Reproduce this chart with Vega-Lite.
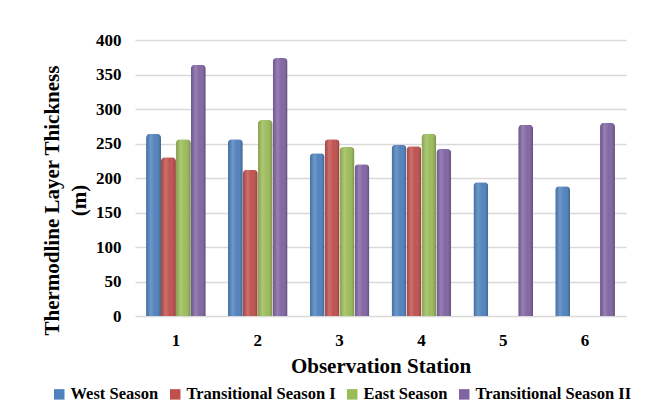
{
  "$schema": "https://vega.github.io/schema/vega-lite/v6.json",
  "width": 491,
  "height": 276,
  "autosize": "none",
  "padding": {"left": 135, "top": 40, "right": 42, "bottom": 99},
  "background": "white",
  "config": {
    "font": "Liberation Serif",
    "view": {"stroke": null}
  },
  "data": {
    "values": [
      {"station": "1", "season": "West Season", "thickness": 264},
      {"station": "1", "season": "Transitional Season I", "thickness": 230},
      {"station": "1", "season": "East Season", "thickness": 256},
      {"station": "1", "season": "Transitional Season II", "thickness": 364},
      {"station": "2", "season": "West Season", "thickness": 256},
      {"station": "2", "season": "Transitional Season I", "thickness": 212},
      {"station": "2", "season": "East Season", "thickness": 284},
      {"station": "2", "season": "Transitional Season II", "thickness": 374},
      {"station": "3", "season": "West Season", "thickness": 236},
      {"station": "3", "season": "Transitional Season I", "thickness": 256},
      {"station": "3", "season": "East Season", "thickness": 245},
      {"station": "3", "season": "Transitional Season II", "thickness": 220},
      {"station": "4", "season": "West Season", "thickness": 248},
      {"station": "4", "season": "Transitional Season I", "thickness": 246},
      {"station": "4", "season": "East Season", "thickness": 264},
      {"station": "4", "season": "Transitional Season II", "thickness": 242},
      {"station": "5", "season": "West Season", "thickness": 194},
      {"station": "5", "season": "Transitional Season II", "thickness": 277},
      {"station": "6", "season": "West Season", "thickness": 188},
      {"station": "6", "season": "Transitional Season II", "thickness": 280}
    ]
  },
  "encoding": {
    "x": {
      "field": "station", "type": "nominal",
      "scale": {"paddingInner": 0.27, "paddingOuter": 0.135},
      "axis": {
        "title": "Observation Station",
        "titleFont": "Liberation Serif", "titleFontSize": 21, "titleFontWeight": "bold", "titleColor": "#000",
        "titlePadding": 7,
        "labelAngle": 0, "labelFont": "Liberation Serif", "labelFontSize": 17, "labelFontWeight": "bold", "labelColor": "#000",
        "labelPadding": 16, "domain": false, "ticks": false, "grid": false
      }
    },
    "xOffset": {
      "field": "season", "type": "nominal",
      "sort": ["West Season", "Transitional Season I", "East Season", "Transitional Season II"]
    },
    "y": {
      "field": "thickness", "type": "quantitative",
      "scale": {"domain": [0, 400]},
      "axis": {
        "title": ["Thermodline Layer Thickness", "(m)"],
        "titleFont": "Liberation Serif", "titleFontSize": 21, "titleFontWeight": "bold", "titleColor": "#000",
        "titlePadding": 6, "titleY": 160, "titleLineHeight": 27,
        "values": [0, 50, 100, 150, 200, 250, 300, 350, 400],
        "labelFont": "Liberation Serif", "labelFontSize": 17, "labelFontWeight": "bold", "labelColor": "#000",
        "labelPadding": 14, "domain": false, "ticks": false,
        "grid": true, "gridColor": "#d9d9d9", "gridWidth": 1.5
      }
    }
  },
  "layer": [
    {
      "mark": {"type": "bar", "cornerRadiusTopLeft": 4, "cornerRadiusTopRight": 4},
      "encoding": {
        "color": {
          "field": "season", "type": "nominal",
          "sort": ["West Season", "Transitional Season I", "East Season", "Transitional Season II"],
          "scale": {
            "domain": ["West Season", "Transitional Season I", "East Season", "Transitional Season II"],
            "range": ["#4f81bd", "#c0504d", "#9bbb59", "#8064a2"]
          },
          "legend": {
            "title": null, "orient": "none", "direction": "horizontal",
            "legendX": -84, "legendY": 346,
            "symbolType": "square", "symbolSize": 110, "symbolStrokeWidth": 0,
            "labelFont": "Liberation Serif", "labelFontSize": 16.5, "labelFontWeight": "bold", "labelColor": "#000",
            "columnPadding": 8, "labelOffset": 3
          }
        }
      }
    },
    {
      "mark": {
        "type": "bar", "cornerRadiusTopLeft": 4, "cornerRadiusTopRight": 4,
        "fill": {
          "gradient": "linear", "x1": 0, "y1": 0, "x2": 1, "y2": 0,
          "stops": [
            {"offset": 0, "color": "rgba(0,0,0,0.12)"},
            {"offset": 0.3, "color": "rgba(255,255,255,0.18)"},
            {"offset": 0.6, "color": "rgba(255,255,255,0.02)"},
            {"offset": 1, "color": "rgba(0,0,0,0.25)"}
          ]
        }
      }
    }
  ]
}
